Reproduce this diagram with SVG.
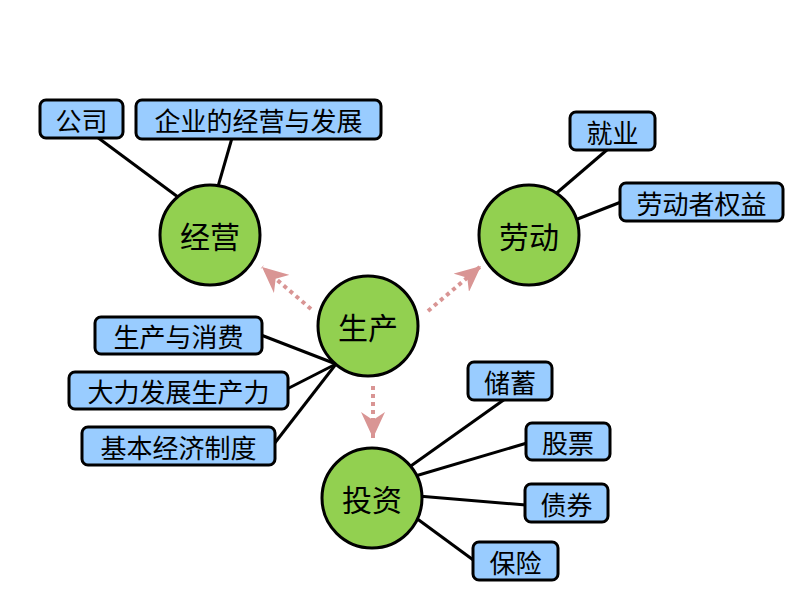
<svg xmlns="http://www.w3.org/2000/svg" width="794" height="596" viewBox="0 0 794 596">
<defs>
<style>
.box{fill:#99CCFF;stroke:#000;stroke-width:3}
.hub{fill:#92D050;stroke:#000;stroke-width:3}
.bt{font-family:"Noto Sans CJK SC",sans-serif;font-size:26px;fill:#000;text-anchor:middle;dominant-baseline:central}
.ht{font-family:"Noto Sans CJK SC",sans-serif;font-size:30px;fill:#000;text-anchor:middle;dominant-baseline:central}
.ln{stroke:#000;stroke-width:3;fill:none}
.ar{stroke:#D99594;stroke-width:4;stroke-dasharray:4 4;fill:none;marker-end:url(#head)}
</style>
<marker id="head" markerUnits="userSpaceOnUse" viewBox="0 0 26 24" refX="26" refY="12" markerWidth="26" markerHeight="24" orient="auto">
<path d="M0,0 L26,12 L0,24 L8,12 Z" fill="#D99594"/>
</marker>
</defs>
<rect width="794" height="596" fill="#fff"/>
<g id="connectors">
<line class="ln" x1="97" y1="137" x2="182" y2="200"/>
<line class="ln" x1="232" y1="138" x2="217" y2="190"/>
<line class="ln" x1="608" y1="149" x2="552" y2="197"/>
<line class="ln" x1="621" y1="202" x2="575" y2="220"/>
<line class="ln" x1="261" y1="335" x2="336" y2="364"/>
<line class="ln" x1="287" y1="389" x2="336" y2="364"/>
<line class="ln" x1="274" y1="444" x2="336" y2="364"/>
<line class="ln" x1="505" y1="399" x2="408" y2="468"/>
<line class="ln" x1="527" y1="443" x2="412" y2="477"/>
<line class="ln" x1="526" y1="505" x2="418" y2="496"/>
<line class="ln" x1="476" y1="562" x2="412" y2="515"/>
<line class="ar" x1="311" y1="309" x2="262" y2="267"/>
<line class="ar" x1="428" y1="311" x2="481" y2="266"/>
<line class="ar" x1="373" y1="386" x2="373" y2="438"/>
</g>
<g id="n-jingying"><circle class="hub" cx="210" cy="235" r="50"/><text class="ht" x="210" y="235">经营</text></g>
<g id="n-shengchan"><circle class="hub" cx="368" cy="326" r="50"/><text class="ht" x="368" y="326">生产</text></g>
<g id="n-laodong"><circle class="hub" cx="529" cy="235" r="50"/><text class="ht" x="529" y="235">劳动</text></g>
<g id="n-touzi"><circle class="hub" cx="372" cy="498" r="50"/><text class="ht" x="372" y="498">投资</text></g>
<g id="b-gongsi"><rect class="box" x="40" y="100" width="83" height="38" rx="6"/><text class="bt" x="81.5" y="119">公司</text></g>
<g id="b-qiye"><rect class="box" x="136" y="100" width="245" height="39" rx="6"/><text class="bt" x="258.5" y="119.5">企业的经营与发展</text></g>
<g id="b-jiuye"><rect class="box" x="570" y="112" width="85" height="38" rx="6"/><text class="bt" x="612.5" y="131">就业</text></g>
<g id="b-quanyi"><rect class="box" x="620" y="183" width="163" height="38" rx="6"/><text class="bt" x="701.5" y="202">劳动者权益</text></g>
<g id="b-xiaofei"><rect class="box" x="95" y="317" width="167" height="37" rx="6"/><text class="bt" x="178.5" y="335.5">生产与消费</text></g>
<g id="b-shengchanli"><rect class="box" x="69" y="372" width="219" height="37" rx="6"/><text class="bt" x="178.5" y="390.5">大力发展生产力</text></g>
<g id="b-zhidu"><rect class="box" x="82" y="427" width="193" height="38" rx="6"/><text class="bt" x="178.5" y="446">基本经济制度</text></g>
<g id="b-chuxu"><rect class="box" x="468" y="362" width="84" height="38" rx="6"/><text class="bt" x="510" y="381">储蓄</text></g>
<g id="b-gupiao"><rect class="box" x="526" y="423" width="84" height="37" rx="6"/><text class="bt" x="568" y="441.5">股票</text></g>
<g id="b-zhaiquan"><rect class="box" x="525" y="484" width="83" height="38" rx="6"/><text class="bt" x="566.5" y="503">债券</text></g>
<g id="b-baoxian"><rect class="box" x="473" y="542" width="85" height="38" rx="6"/><text class="bt" x="515.5" y="561">保险</text></g>
</svg>
